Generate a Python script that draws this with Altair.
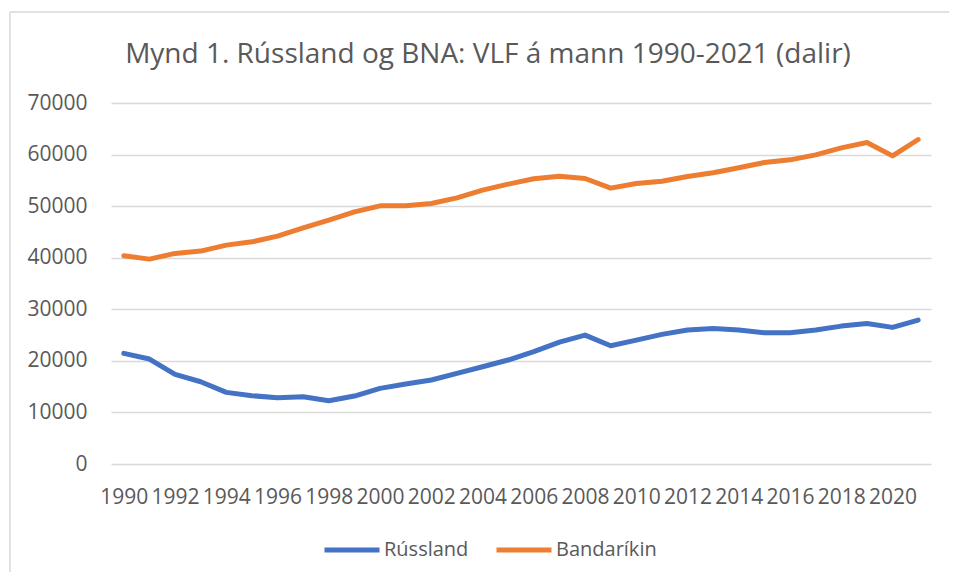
import altair as alt
import pandas as pd

years = list(range(1990, 2022))
russland = [21450, 20350, 17380, 15950, 13890, 13240, 12850, 13050, 12270, 13180,
            14670, 15500, 16280, 17570, 18860, 20160, 21800, 23640, 25000, 22930,
            24030, 25130, 25970, 26290, 25970, 25450, 25450, 25970, 26740, 27260,
            26490, 27910]
bandarikin = [40370, 39730, 40830, 41280, 42440, 43080, 44190, 45800, 47290, 48900,
              50060, 50060, 50520, 51610, 53100, 54260, 55300, 55810, 55360, 53490,
              54400, 54840, 55750, 56460, 57430, 58460, 58980, 59950, 61300, 62340,
              59750, 62920]
series_names = ["Rússland", "Bandaríkin"]
colors = ["#4472C4", "#ED7D31"]
title_text = ["Mynd 1. Rússland og BNA: VLF á mann 1990-2021 (dalir)"]

rows = []
for i, y in enumerate(years):
    rows.append({"year": y, "series": series_names[0], "value": russland[i]})
    rows.append({"year": y, "series": series_names[1], "value": bandarikin[i]})
df = pd.DataFrame(rows)

FONT = "Open Sans"
TXT = "#595959"
W, H = 820, 361

lines = alt.Chart(df).mark_line(strokeWidth=5, strokeCap="round", strokeJoin="round").encode(
    x=alt.X("year:O", scale=alt.Scale(type="point", padding=0.5),
            axis=alt.Axis(values=[y for y in years if y % 2 == 0], labelAngle=0,
                          labelOverlap=False, ticks=False, domain=False, grid=False,
                          labelPadding=22, title=None)),
    y=alt.Y("value:Q", scale=alt.Scale(domain=[0, 70000], nice=False),
            axis=alt.Axis(values=list(range(0, 70001, 10000)), format="d", ticks=False,
                          domain=False, labelPadding=24, title=None,
                          gridColor="#D9D9D9", gridWidth=1.5)),
    color=alt.Color("series:N", scale=alt.Scale(domain=series_names, range=colors),
                    sort=series_names,
                    legend=alt.Legend(orient="none", legendX=211, legendY=417,
                                      direction="horizontal", title=None,
                                      symbolType="stroke", symbolStrokeWidth=5,
                                      symbolSize=3025, labelFontSize=20,
                                      labelColor=TXT, labelFont=FONT,
                                      columnPadding=17, labelOffset=2)),
)

title = alt.Chart(pd.DataFrame({"t": title_text})).mark_text(
    font=FONT, fontSize=28, color=TXT, align="center", baseline="alphabetic"
).encode(x=alt.value(377), y=alt.value(-40), text="t:N")

border_left = alt.Chart(pd.DataFrame({"a": [0]})).mark_rule(color="#D9D9D9", strokeWidth=1.5).encode(
    x=alt.value(-101), x2=alt.value(-101), y=alt.value(-91), y2=alt.value(490))
border_top = alt.Chart(pd.DataFrame({"a": [0]})).mark_rule(color="#D9D9D9", strokeWidth=1.5).encode(
    x=alt.value(-101), x2=alt.value(870), y=alt.value(-91), y2=alt.value(-91))

chart = alt.layer(border_left, border_top, title, lines).properties(
    width=W, height=H,
    autosize=alt.AutoSizeParams(type="none"),
    padding={"left": 103, "top": 95, "right": 18, "bottom": 108},
).configure_view(stroke=None).configure_axis(
    labelFont=FONT, labelFontSize=21, labelColor=TXT
)

chart.save("out.html", embed_options={"renderer": "svg", "actions": False})
